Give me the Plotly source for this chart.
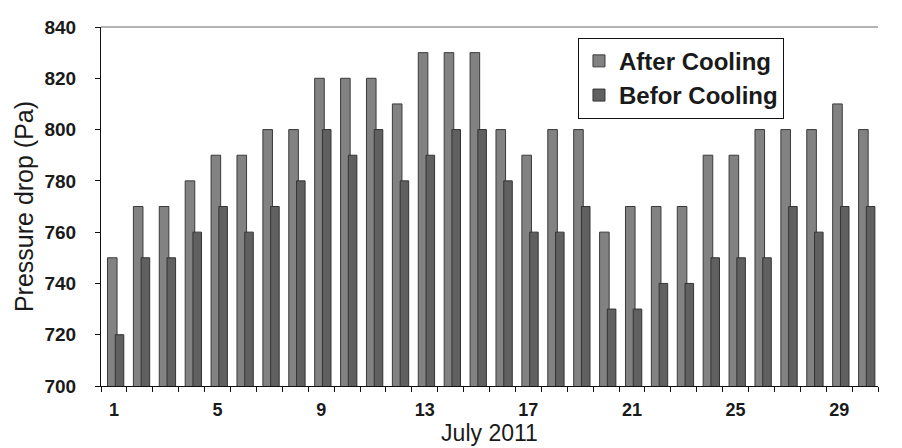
import plotly.graph_objects as go

days = list(range(1, 31))
after_cooling = [750, 770, 770, 780, 790, 790, 800, 800, 820, 820,
                 820, 810, 830, 830, 830, 800, 790, 800, 800, 760,
                 770, 770, 770, 790, 790, 800, 800, 800, 810, 800]
before_cooling = [720, 750, 750, 760, 770, 760, 770, 780, 800, 790,
                  800, 780, 790, 800, 800, 780, 760, 760, 770, 730,
                  730, 740, 740, 750, 750, 750, 770, 760, 770, 770]
x_tick_vals = [1, 5, 9, 13, 17, 21, 25, 29]
y_tick_vals = [700, 720, 740, 760, 780, 800, 820, 840]

fig = go.Figure()
fig.add_trace(go.Bar(
    x=days, y=after_cooling, name="After Cooling",
    width=0.37, offset=-0.25,
    marker=dict(color="#828282", line=dict(color="#3a3a3a", width=1)),
    legendgroup="a",
))
fig.add_trace(go.Bar(
    x=days, y=before_cooling, name="Befor Cooling",
    width=0.33, offset=0.05,
    marker=dict(color="#606060", line=dict(color="#333333", width=1)),
    legendgroup="b",
))

fig.update_layout(
    width=902, height=448,
    margin=dict(l=93, r=32, t=19, b=70),
    plot_bgcolor="white", paper_bgcolor="white",
    barmode="overlay",
    font=dict(family="Liberation Sans, Arial, sans-serif", color="#1a1a1a"),
    showlegend=True,
    legend=dict(
        x=0.879, y=0.97, xanchor="right", yanchor="top",
        bgcolor="white", bordercolor="#111111", borderwidth=1,
        font=dict(size=24, family="Liberation Sans, Arial, sans-serif", weight="bold"),
        traceorder="grouped", tracegroupgap=0,
    ),
    xaxis=dict(
        range=[0.5, 30.5], automargin=False,
        tickmode="array", tickvals=x_tick_vals,
        ticktext=[str(v) for v in x_tick_vals],
        ticks="", showgrid=False, zeroline=False,
        showline=True, linecolor="#111111", linewidth=1,
        tickfont=dict(size=18, weight="bold"),
        ticklabelstandoff=7,
        minor=dict(ticks="outside", tick0=0.5, dtick=1, ticklen=5,
                   tickcolor="#111111", showgrid=False),
        title=dict(text="July 2011", font=dict(size=23), standoff=2),
    ),
    yaxis=dict(
        range=[700, 840], automargin=False,
        tickmode="array", tickvals=y_tick_vals,
        ticks="outside", ticklen=5, tickcolor="#111111",
        showgrid=False, zeroline=False,
        showline=True, linecolor="#111111", linewidth=1,
        tickfont=dict(size=19, weight="bold"),
        ticklabelstandoff=15,
        title=dict(text="Pressure drop (Pa)", font=dict(size=25), standoff=3),
    ),
)
fig.add_shape(type="line", xref="paper", yref="paper", x0=0, x1=1, y0=1, y1=1,
              line=dict(color="#9a9a9a", width=1.5))

fig.write_html("out.html")
